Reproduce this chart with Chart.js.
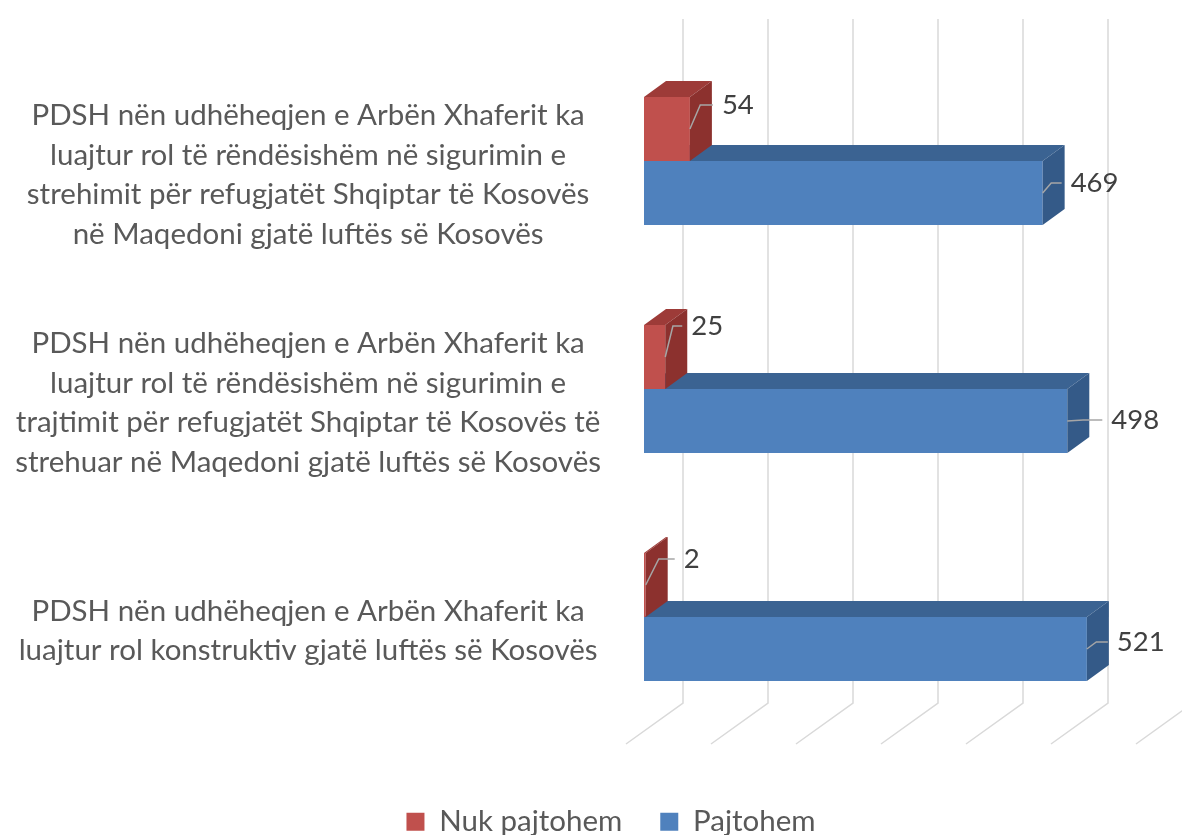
<!DOCTYPE html>
<html>
<head>
<meta charset="utf-8">
<script src="https://cdn.jsdelivr.net/npm/chart.js@4.4.1/dist/chart.umd.min.js"></script>
<style>
  html, body { margin: 0; padding: 0; background: #fff; }
  canvas { display: block; }
</style>
</head>
<body>
<canvas id="chart" width="1182" height="835"></canvas>
<script>
const categories = [
  ['PDSH nën udhëheqjen e Arbën Xhaferit ka', 'luajtur rol të rëndësishëm në sigurimin e', 'strehimit për refugjatët Shqiptar të Kosovës', 'në Maqedoni gjatë luftës së Kosovës'],
  ['PDSH nën udhëheqjen e Arbën Xhaferit ka', 'luajtur rol të rëndësishëm në sigurimin e', 'trajtimit për refugjatët Shqiptar të Kosovës të', 'strehuar në Maqedoni gjatë luftës së Kosovës'],
  ['PDSH nën udhëheqjen e Arbën Xhaferit ka', 'luajtur rol konstruktiv gjatë luftës së Kosovës']
];
const seriesNames = ['Nuk pajtohem', 'Pajtohem'];
const nukPajtohem = [54, 25, 2];
const pajtohem = [469, 498, 521];
const axisMax = 600;
const axisStep = 100;

// look of the fake 3d
const frontColors = ['#c0504d', '#4f81bd'];
const topColors = ['#9d3b38', '#3b6392'];
const sideColors = ['#8c312e', '#345a88'];
const BAR_DX = 22, BAR_DY = 16;     // depth of a bar
const WALL_DX = 39, WALL_DY = 28;   // back wall behind the front of the bars
const FLOOR_DX = 18, FLOOR_DY = 13; // front edge of the floor
const FONT = 'Lato';
const LEGEND_SHIFT = 34;

// where excel put each value label (dy from bar middle, dx from bar end)
const labelNudge = [
  [{dx: 32, dy: -24}, {dx: 26, dy: -31}, {dx: 38, dy: -26}],
  [{dx: 28, dy: -10}, {dx: 44, dy: -1}, {dx: 30, dy: -7}]
];

const depth3d = {
  id: 'depth3d',
  afterLayout(chart) {
    // excel centres the legend a bit right of the page middle
    chart.legend.left += LEGEND_SHIFT;
    chart.legend.right += LEGEND_SHIFT;
  },
  beforeDatasetsDraw(chart) {
    const {ctx, chartArea: a, scales: {x}} = chart;
    ctx.save();
    ctx.strokeStyle = '#d9d9d9';
    ctx.lineWidth = 1.5;
    x.ticks.forEach(t => {
      const px = x.getPixelForValue(t.value);
      ctx.beginPath();
      ctx.moveTo(px + WALL_DX, a.top - WALL_DY);
      ctx.lineTo(px + WALL_DX, a.bottom - WALL_DY);
      ctx.lineTo(px - FLOOR_DX, a.bottom + FLOOR_DY);
      ctx.stroke();
    });
    ctx.restore();
  },
  afterDatasetDraw(chart, args) {
    const {ctx} = chart;
    const i = args.index;
    ctx.save();
    args.meta.data.forEach(bar => {
      const {x, y, base, height} = bar.getProps(['x', 'y', 'base', 'height'], true);
      const top = y - height / 2;
      const bottom = y + height / 2;

      ctx.fillStyle = topColors[i];
      ctx.beginPath();
      ctx.moveTo(base, top);
      ctx.lineTo(x, top);
      ctx.lineTo(x + BAR_DX, top - BAR_DY);
      ctx.lineTo(base + BAR_DX, top - BAR_DY);
      ctx.closePath();
      ctx.fill();

      ctx.fillStyle = sideColors[i];
      ctx.beginPath();
      ctx.moveTo(x, top);
      ctx.lineTo(x, bottom);
      ctx.lineTo(x + BAR_DX, bottom - BAR_DY);
      ctx.lineTo(x + BAR_DX, top - BAR_DY);
      ctx.closePath();
      ctx.fill();
    });
    ctx.restore();
  },
  afterDatasetsDraw(chart) {
    const {ctx} = chart;
    ctx.save();
    ctx.font = '27.5px ' + FONT;
    ctx.textBaseline = 'middle';
    ctx.textAlign = 'left';
    chart.data.datasets.forEach((ds, i) => {
      chart.getDatasetMeta(i).data.forEach((bar, j) => {
        const {x, y} = bar.getProps(['x', 'y'], true);
        const n = labelNudge[i][j];
        const ly = y + n.dy;
        const tx = x + n.dx;
        const cx = tx - 9;
        ctx.strokeStyle = '#a6a6a6';
        ctx.lineWidth = 1.5;
        ctx.beginPath();
        ctx.moveTo(x, y);
        ctx.lineTo(x + (cx - x) * 0.45, ly);
        ctx.lineTo(cx, ly);
        ctx.stroke();
        ctx.fillStyle = '#404040';
        ctx.fillText(String(ds.data[j]), tx, ly);
      });
    });
    ctx.restore();
  }
};

new Chart(document.getElementById('chart'), {
  type: 'bar',
  data: {
    labels: categories,
    datasets: [
      {label: seriesNames[0], data: nukPajtohem, backgroundColor: frontColors[0]},
      {label: seriesNames[1], data: pajtohem, backgroundColor: frontColors[1]}
    ]
  },
  options: {
    indexAxis: 'y',
    responsive: false,
    animation: false,
    categoryPercentage: 0.5614,
    barPercentage: 1,
    layout: {padding: {top: 47, left: 0, right: 28, bottom: 0}},
    scales: {
      x: {
        min: 0,
        max: axisMax,
        ticks: {stepSize: axisStep, display: false},
        grid: {display: false},
        border: {display: false},
        afterFit: s => { s.height = 38; }
      },
      y: {
        grid: {display: false, drawTicks: false},
        border: {display: false},
        ticks: {
          autoSkip: false,
          crossAlign: 'center',
          padding: 43,
          labelOffset: 14,
          color: '#595959',
          font: {family: FONT, size: 29.5, lineHeight: 1.34}
        },
        afterFit: s => {
          s.width = 644;
          s.paddingTop = 0;
          s.paddingBottom = 0;
        }
      }
    },
    plugins: {
      legend: {
        position: 'bottom',
        maxHeight: 66,
        labels: {
          boxWidth: 18,
          boxHeight: 18,
          padding: 38,
          color: '#595959',
          font: {family: FONT, size: 29.5}
        }
      },
      tooltip: {enabled: false}
    }
  },
  plugins: [depth3d]
});
</script>
</body>
</html>
